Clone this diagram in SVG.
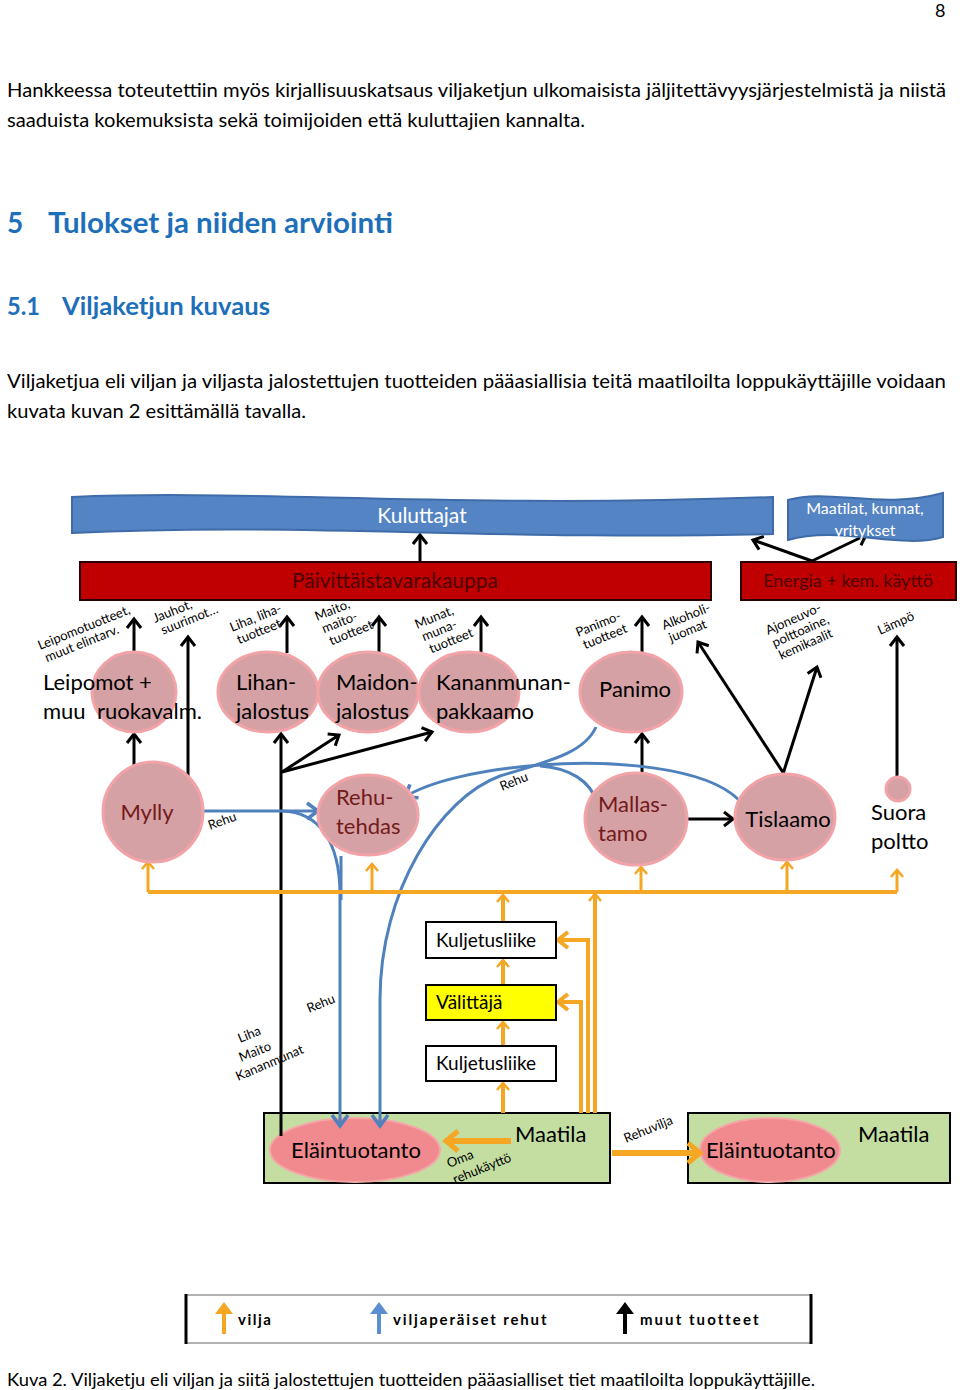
<svg xmlns="http://www.w3.org/2000/svg" width="960" height="1390" viewBox="0 0 960 1390">
<style>
text{font-family:Lato,"Liberation Sans",sans-serif;fill:#000}
.p{font-size:19px}
.h{font-weight:bold;fill:#1E6FBA}
.lbl{font-size:13px}
.nt{font-size:22px}
.dr{fill:#721A1A}
.el{fill:#D5A1A4;stroke:#F2A3A7;stroke-width:3}
.k{fill:none;stroke:#000;stroke-width:3}
.b{fill:none;stroke:#4F81BD;stroke-width:3}
.o{fill:none;stroke:#F5A623;stroke-width:3}
.ot{fill:none;stroke:#F5A623;stroke-width:4}
.ow{fill:none;stroke:#F5A623;stroke-width:6}
.box{fill:#fff;stroke:#000;stroke-width:2}
.farm{fill:#C4DEA2;stroke:#000;stroke-width:2}
.ani{fill:#F08A8E;stroke:#F4A7A9;stroke-width:2}
.lg{font-size:15px;font-weight:bold;letter-spacing:1.5px}
.wt{fill:#fff}
</style>
<defs>
<marker id="mk" viewBox="0 0 16 16" refX="14" refY="8" markerWidth="16" markerHeight="16" markerUnits="userSpaceOnUse" orient="auto" overflow="visible"><path d="M5,1 L14,8 L5,15" fill="none" stroke="#000" stroke-width="3"/></marker>
<marker id="mb" viewBox="0 0 18 18" refX="16" refY="9" markerWidth="18" markerHeight="18" markerUnits="userSpaceOnUse" orient="auto" overflow="visible"><path d="M5,1 L16,9 L5,17" fill="none" stroke="#4F81BD" stroke-width="3.5"/></marker>
<marker id="mo" viewBox="0 0 16 16" refX="13" refY="8" markerWidth="16" markerHeight="16" markerUnits="userSpaceOnUse" orient="auto" overflow="visible"><path d="M6,2 L13,8 L6,14" fill="none" stroke="#F5A623" stroke-width="2.5"/></marker>
<marker id="mO" viewBox="0 0 20 20" refX="17" refY="10" markerWidth="20" markerHeight="20" markerUnits="userSpaceOnUse" orient="auto" overflow="visible"><path d="M7,2 L17,10 L7,18" fill="none" stroke="#F5A623" stroke-width="4"/></marker>
<marker id="mW" viewBox="0 0 24 24" refX="20" refY="12" markerWidth="24" markerHeight="24" markerUnits="userSpaceOnUse" orient="auto" overflow="visible"><path d="M8,2 L20,12 L8,22" fill="none" stroke="#F5A623" stroke-width="5"/></marker>
</defs>

<g id="page-text">
<text x="935" y="17" style="font-size:18px">8</text>
<text class="p" x="7" y="97" textLength="939" lengthAdjust="spacingAndGlyphs">Hankkeessa toteutettiin myös kirjallisuuskatsaus viljaketjun ulkomaisista jäljitettävyysjärjestelmistä ja niistä</text>
<text class="p" x="7" y="127" textLength="578" lengthAdjust="spacingAndGlyphs">saaduista kokemuksista sekä toimijoiden että kuluttajien kannalta.</text>
<text class="h" x="7" y="233" style="font-size:28px">5</text>
<text class="h" x="48" y="233" style="font-size:28px" textLength="345" lengthAdjust="spacingAndGlyphs">Tulokset ja niiden arviointi</text>
<text class="h" x="7" y="315" style="font-size:24px" textLength="33" lengthAdjust="spacingAndGlyphs">5.1</text>
<text class="h" x="62" y="315" style="font-size:24px" textLength="208" lengthAdjust="spacingAndGlyphs">Viljaketjun kuvaus</text>
<text class="p" x="7" y="388" textLength="939" lengthAdjust="spacingAndGlyphs">Viljaketjua eli viljan ja viljasta jalostettujen tuotteiden pääasiallisia teitä maatiloilta loppukäyttäjille voidaan</text>
<text class="p" x="7" y="418" textLength="299" lengthAdjust="spacingAndGlyphs">kuvata kuvan 2 esittämällä tavalla.</text>
<text x="7" y="1386" style="font-size:17px" textLength="808" lengthAdjust="spacingAndGlyphs">Kuva 2. Viljaketju eli viljan ja siitä jalostettujen tuotteiden pääasialliset tiet maatiloilta loppukäyttäjille.</text>
</g>

<g id="maatila-1">
<rect class="farm" x="264" y="1113" width="346" height="70"/>
<ellipse class="ani" cx="355" cy="1150" rx="85" ry="32"/>
<text class="nt" x="356" y="1158" text-anchor="middle">Eläintuotanto</text>
<text class="nt" x="515" y="1142">Maatila</text>
</g>
<g id="maatila-2">
<rect class="farm" x="688" y="1113" width="262" height="70"/>
<ellipse class="ani" cx="770" cy="1150" rx="70" ry="32"/>
<text class="nt" x="706" y="1158">Eläintuotanto</text>
<text class="nt" x="858" y="1142">Maatila</text>
</g>

<g id="connectors">
<path class="k" d="M420,562 V535" marker-end="url(#mk)"/>
<path class="k" d="M812,561 L753,540" marker-end="url(#mk)"/>
<path class="k" d="M812,561 L866,535" marker-end="url(#mk)"/>
<path class="k" d="M134,655 V619" marker-end="url(#mk)"/>
<path class="k" d="M287,653 V617" marker-end="url(#mk)"/>
<path class="k" d="M379,653 V617" marker-end="url(#mk)"/>
<path class="k" d="M481,653 V617" marker-end="url(#mk)"/>
<path class="k" d="M642,653 V617" marker-end="url(#mk)"/>
<path class="k" d="M134,765 V734" marker-end="url(#mk)"/>
<path class="k" d="M188,776 V637" marker-end="url(#mk)"/>
<path class="k" d="M281,1136 V734" marker-end="url(#mk)"/>
<path class="k" d="M282,772 L339,735" marker-end="url(#mk)"/>
<path class="k" d="M282,772 L432,732" marker-end="url(#mk)"/>
<path class="k" d="M642,774 V734" marker-end="url(#mk)"/>
<path class="k" d="M688,819 H733" marker-end="url(#mk)"/>
<path class="k" d="M786,777 L698,642" marker-end="url(#mk)"/>
<path class="k" d="M782,777 L817,667" marker-end="url(#mk)"/>
<path class="k" d="M897,777 V637" marker-end="url(#mk)"/>

<path class="b" d="M203,811 H318" marker-end="url(#mb)"/>
<path class="b" d="M282,811 C318,812 340,840 340,895 V1126" marker-end="url(#mb)"/>
<path class="b" d="M341,856 V900"/>
<path class="b" d="M596,727 C584,754 545,762 500,776 C440,798 380,890 380,1000 V1126" marker-end="url(#mb)"/>
<path class="b" d="M739,800 C705,766 610,760 540,765 C480,770 430,781 405,797" marker-end="url(#mb)"/>
<path class="b" d="M597,802 C590,781 570,768 540,766"/>

<path class="ot" d="M148,892 H897"/>
<path class="o" d="M148,892 V862" marker-end="url(#mo)"/>
<path class="o" d="M372,892 V864" marker-end="url(#mo)"/>
<path class="o" d="M641,892 V867" marker-end="url(#mo)"/>
<path class="o" d="M787,892 V862" marker-end="url(#mo)"/>
<path class="o" d="M897,892 V870" marker-end="url(#mo)"/>
<path class="ot" d="M503,922 V895" marker-end="url(#mo)"/>
<path class="ot" d="M503,985 V960" marker-end="url(#mo)"/>
<path class="ot" d="M503,1046 V1022" marker-end="url(#mo)"/>
<path class="ot" d="M503,1113 V1083" marker-end="url(#mo)"/>
<path class="ot" d="M581,1113 V1002 H558" marker-end="url(#mO)"/>
<path class="ot" d="M588,1113 V940 H558" marker-end="url(#mO)"/>
<path class="ot" d="M595,1113 V894" marker-end="url(#mo)"/>
<path class="ow" d="M511,1141 H446" marker-end="url(#mW)"/>
<path class="ow" d="M612,1153 H700" marker-end="url(#mW)"/>

<g id="edge-labels">
<text class="lbl" transform="translate(40,650) rotate(-22)">Leipomotuotteet,<tspan x="2" dy="14">muut elintarv.</tspan></text>
<text class="lbl" transform="translate(155,623) rotate(-22)">Jauhot,<tspan x="3" dy="14">suurimot…</tspan></text>
<text class="lbl" transform="translate(232,632) rotate(-22)">Liha, liha-<tspan x="2" dy="14">tuotteet</tspan></text>
<text class="lbl" transform="translate(317,621) rotate(-22)">Maito,<tspan x="2" dy="14">maito-</tspan><tspan x="4" dy="14">tuotteet</tspan></text>
<text class="lbl" transform="translate(417,629) rotate(-22)">Munat,<tspan x="2" dy="14">muna-</tspan><tspan x="4" dy="14">tuotteet</tspan></text>
<text class="lbl" transform="translate(578,637) rotate(-22)">Panimo-<tspan x="2" dy="14">tuotteet</tspan></text>
<text class="lbl" transform="translate(664,630) rotate(-22)">Alkoholi-<tspan x="2" dy="14">juomat</tspan></text>
<text class="lbl" transform="translate(768,635) rotate(-24)">Ajoneuvo-<tspan x="1" dy="14">polttoaine,</tspan><tspan x="2" dy="14">kemikaalit</tspan></text>
<text class="lbl" transform="translate(880,635) rotate(-24)">Lämpö</text>
<text class="lbl" transform="translate(210,830) rotate(-20)">Rehu</text>
<text class="lbl" transform="translate(502,791) rotate(-22)">Rehu</text>
<text class="lbl" transform="translate(309,1013) rotate(-22)">Rehu</text>
<text class="lbl" transform="translate(240,1043) rotate(-22)">Liha</text>
<text class="lbl" transform="translate(241,1062) rotate(-22)">Maito</text>
<text class="lbl" transform="translate(238,1081) rotate(-23)">Kananmunat</text>
<text class="lbl" transform="translate(449,1168) rotate(-22)">Oma</text>
<text class="lbl" transform="translate(455,1184) rotate(-22)">rehukäyttö</text>
<text class="lbl" transform="translate(626,1143) rotate(-22)">Rehuvilja</text>
</g>
</g>

<g id="kuluttajat">
<path d="M72,497 C250,489 450,509 773,497 L773,534 C500,541 300,522 72,533 Z" fill="#5584C4" stroke="#3F6CA8" stroke-width="2"/>
<text class="wt" x="422" y="523" text-anchor="middle" style="font-size:21px">Kuluttajat</text>
</g>
<g id="maatilat-kunnat">
<path d="M788,500 C830,488 880,510 943,493 L943,537 C900,550 840,525 788,540 Z" fill="#5584C4" stroke="#3F6CA8" stroke-width="2"/>
<text class="wt" x="865" y="514" text-anchor="middle" style="font-size:16px">Maatilat, kunnat,</text>
<text class="wt" x="865" y="536" text-anchor="middle" style="font-size:16px">yritykset</text>
</g>
<g id="paivittaistavarakauppa">
<rect x="80" y="562" width="631" height="38" fill="#C00000" stroke="#2A0000" stroke-width="2"/>
<text x="395" y="588" text-anchor="middle" style="font-size:21px;fill:#4A0000">Päivittäistavarakauppa</text>
</g>
<g id="energia">
<rect x="741" y="562" width="215" height="38" fill="#C00000" stroke="#2A0000" stroke-width="2"/>
<text x="848" y="587" text-anchor="middle" style="font-size:18px;fill:#4A0000">Energia + kem. käyttö</text>
</g>

<g id="leipomot">
<ellipse class="el" cx="134" cy="692" rx="42" ry="40"/>
<text class="nt" x="43" y="690">Leipomot +</text>
<text class="nt" x="43" y="719" xml:space="preserve">muu  ruokavalm.</text>
</g>
<g id="lihanjalostus">
<ellipse class="el" cx="268" cy="692" rx="50" ry="40"/>
<text class="nt" x="236" y="690">Lihan-</text>
<text class="nt" x="236" y="719">jalostus</text>
</g>
<g id="maidonjalostus">
<ellipse class="el" cx="368" cy="692" rx="50" ry="40"/>
<text class="nt" x="336" y="690">Maidon-</text>
<text class="nt" x="336" y="719">jalostus</text>
</g>
<g id="kananmunanpakkaamo">
<ellipse class="el" cx="469" cy="692" rx="50" ry="40"/>
<text class="nt" x="436" y="690">Kananmunan-</text>
<text class="nt" x="436" y="719">pakkaamo</text>
</g>
<g id="panimo">
<ellipse class="el" cx="631" cy="692" rx="51" ry="40"/>
<text class="nt" x="635" y="697" text-anchor="middle">Panimo</text>
</g>

<g id="mylly">
<ellipse class="el" cx="153" cy="812" rx="50" ry="50"/>
<text class="nt dr" x="147" y="820" text-anchor="middle">Mylly</text>
</g>
<g id="rehutehdas">
<ellipse class="el" cx="368" cy="815" rx="50" ry="40"/>
<text class="nt dr" x="336" y="805">Rehu-</text>
<text class="nt dr" x="336" y="834">tehdas</text>
</g>
<g id="mallastamo">
<ellipse class="el" cx="636" cy="819" rx="51" ry="46"/>
<text class="nt dr" x="598" y="812">Mallas-</text>
<text class="nt dr" x="598" y="841">tamo</text>
</g>
<g id="tislaamo">
<ellipse class="el" cx="785" cy="817" rx="50" ry="43"/>
<text class="nt" x="788" y="827" text-anchor="middle">Tislaamo</text>
</g>
<g id="suora-poltto">
<circle class="el" cx="898" cy="789" r="12"/>
<text class="nt" x="871" y="820">Suora</text>
<text class="nt" x="871" y="849">poltto</text>
</g>

<g id="kuljetusliike-1">
<rect class="box" x="426" y="922" width="130" height="36"/>
<text x="436" y="947" style="font-size:19px">Kuljetusliike</text>
</g>
<g id="valittaja">
<rect class="box" x="426" y="985" width="130" height="35" style="fill:#FFFF00"/>
<text x="436" y="1009" style="font-size:19px">Välittäjä</text>
</g>
<g id="kuljetusliike-2">
<rect class="box" x="426" y="1046" width="130" height="35"/>
<text x="436" y="1070" style="font-size:19px">Kuljetusliike</text>
</g>

<g id="legend">
<rect x="186" y="1295" width="625" height="48" fill="#fff" stroke="#999" stroke-width="1.5"/>
<path d="M186,1294 V1344 M811,1294 V1344" stroke="#000" stroke-width="3"/>
<path d="M222,1334 V1314 H215 L224,1302 L233,1314 H226 V1334 Z" fill="#F5A623"/>
<text class="lg" x="238" y="1325">vilja</text>
<path d="M377,1334 V1314 H370 L379,1302 L388,1314 H381 V1334 Z" fill="#5B8FD0"/>
<text class="lg" x="393" y="1325" textLength="155" lengthAdjust="spacing">viljaperäiset rehut</text>
<path d="M623,1334 V1314 H616 L625,1302 L634,1314 H627 V1334 Z" fill="#000"/>
<text class="lg" x="640" y="1325" textLength="120" lengthAdjust="spacing">muut tuotteet</text>
</g>
</svg>
